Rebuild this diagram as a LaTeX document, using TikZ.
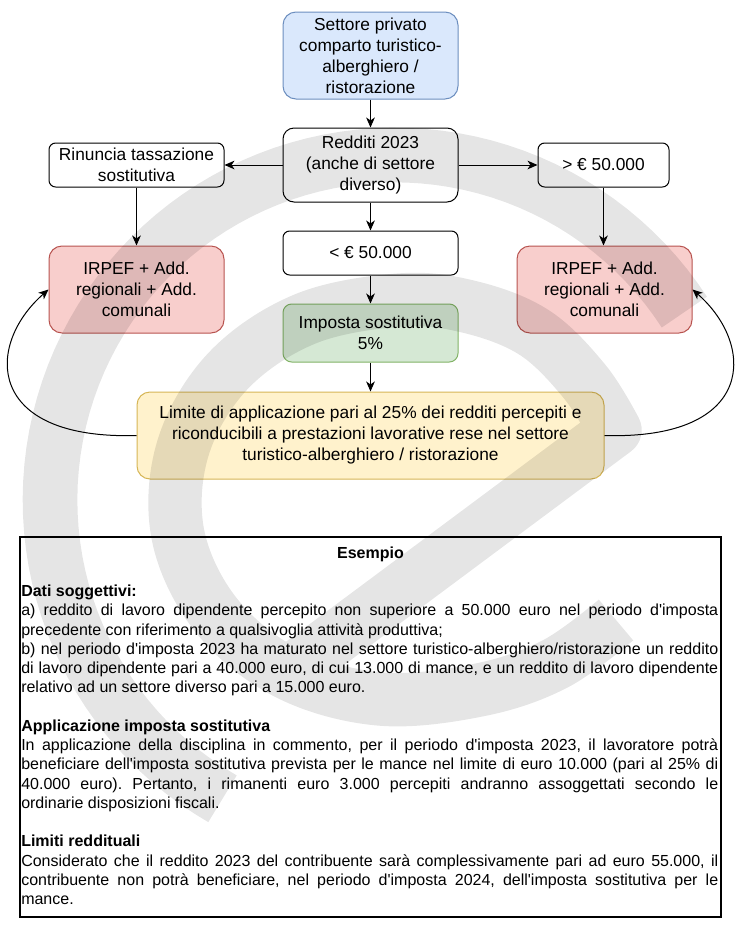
\documentclass[tikz,border=0pt]{standalone}
\usepackage{fontspec}
\setmainfont{Liberation Sans}[Ligatures=TeXOff]
\usetikzlibrary{arrows.meta}
\definecolor{bfill}{HTML}{DAE8FC}\definecolor{bline}{HTML}{6C8EBF}
\definecolor{rfill}{HTML}{F8CECC}\definecolor{rline}{HTML}{B85450}
\definecolor{gfill}{HTML}{D5E8D4}\definecolor{gline}{HTML}{82B366}
\definecolor{yfill}{HTML}{FFF2CC}\definecolor{yline}{HTML}{D6B656}
\newlength{\tw}\setlength{\tw}{522.75pt}
\newcommand{\jline}[1]{\makebox[\tw][s]{#1}}
\frenchspacing
\tikzset{
  fbox/.style={draw=black, fill=white, align=center, inner sep=0pt, line width=0.75pt,
    font=\fontsize{13}{15.75}\selectfont, minimum width=131.25pt},
  bluebox/.style={fbox, fill=bfill, draw=bline},
  redbox/.style={fbox, fill=rfill, draw=rline},
  greenbox/.style={fbox, fill=gfill, draw=gline},
  yellowbox/.style={fbox, fill=yfill, draw=yline},
  tall/.style={minimum height=65.25pt, rounded corners=9.75pt},
  mid/.style={minimum height=55.5pt, rounded corners=8.25pt},
  low/.style={minimum height=33pt, rounded corners=5pt},
  arr/.style={-{Stealth[length=7.5pt,width=6.5pt,inset=2.2pt]}, line width=0.75pt},
  tline/.style={anchor=base west, inner sep=0pt, font=\fontsize{12}{14}\selectfont},
  wm/.style={draw=black, draw opacity=0.1, line cap=butt, line join=round}
}
\begin{document}
\begin{tikzpicture}[x=0.75pt,y=-0.75pt]
\fill[white] (0,0) rectangle (740,929);
\useasboundingbox (0,0) rectangle (740,929);

% flowchart nodes
\node[bluebox, tall] (set) at (370.5,55.5) {Settore privato\\comparto turistico-\\alberghiero /\\ristorazione};
\node[fbox, mid] (red) at (370.5,165) {Redditi 2023\\(anche di settore\\diverso)};
\node[fbox, low] (rin) at (136.5,165) {Rinuncia tassazione\\sostitutiva};
\node[fbox, low, minimum width=98.25pt] (piu) at (603.5,165) {> € 50.000};
\node[fbox, low] (meno) at (370.5,253) {< € 50.000};
\node[redbox, tall] (irl) at (136.5,289.5) {IRPEF + Add.\\regionali + Add.\\comunali};
\node[redbox, tall] (irr) at (604.5,289.5) {IRPEF + Add.\\regionali + Add.\\comunali};
\node[greenbox, minimum height=43.5pt, rounded corners=6.5pt] (imp) at (370.5,333) {Imposta sostitutiva\\5\%};
\node[yellowbox, tall, minimum width=350.25pt] (lim) at (370.5,435.5) {Limite di applicazione pari al 25\% dei redditi percepiti e\\riconducibili a prestazioni lavorative rese nel settore\\turistico-alberghiero / ristorazione};

% connectors
\draw[arr] (set.south) -- (red.north);
\draw[arr] (red.west) -- (rin.east);
\draw[arr] (red.east) -- (piu.west);
\draw[arr] (red.south) -- (meno.north);
\draw[arr] (meno.south) -- (imp.north);
\draw[arr] (imp.south) -- (lim.north);
\draw[arr] (rin.south) -- (irl.north);
\draw[arr] (piu.south) -- (piu.south |- irr.north);
\draw[arr] (lim.west) .. controls (-15,440) and (-15,345) .. (irl.west);
\draw[arr] (lim.east) .. controls (756,440) and (756,345) .. (irr.east);

% example box
\node[draw=black, line width=1.1pt, minimum width=525.75pt, minimum height=285pt, inner sep=0pt] (esbox) at (370.5,727) {};
\node[anchor=base, inner sep=0pt, font=\fontsize{12}{14}\selectfont\bfseries] (t1) at (370.5,558) {Esempio};
\node[tline] (t3) at (21,596.5) {\bfseries Dati soggettivi:};
\node[tline] (t4) at (21,615.75) {\jline{a) reddito di lavoro dipendente percepito non superiore a 50.000 euro nel periodo d'imposta}};
\node[tline] (t5) at (21,635) {precedente con riferimento a qualsivoglia attività produttiva;};
\node[tline] (t6) at (21,654.25) {\jline{b) nel periodo d'imposta 2023 ha maturato nel settore turistico-alberghiero/ristorazione un reddito}};
\node[tline] (t7) at (21,673.5) {\jline{di lavoro dipendente pari a 40.000 euro, di cui 13.000 di mance, e un reddito di lavoro dipendente}};
\node[tline] (t8) at (21,692.75) {relativo ad un settore diverso pari a 15.000 euro.};
\node[tline] (t10) at (21,731.25) {\bfseries Applicazione imposta sostitutiva};
\node[tline] (t11) at (21,750.5) {\jline{In applicazione della disciplina in commento, per il periodo d'imposta 2023, il lavoratore potrà}};
\node[tline] (t12) at (21,769.75) {\jline{beneficiare dell'imposta sostitutiva prevista per le mance nel limite di euro 10.000 (pari al 25\% di}};
\node[tline] (t13) at (21,789) {\jline{40.000 euro). Pertanto, i rimanenti euro 3.000 percepiti andranno assoggettati secondo le}};
\node[tline] (t14) at (21,808.25) {ordinarie disposizioni fiscali.};
\node[tline] (t16) at (21,846.75) {\bfseries Limiti reddituali};
\node[tline] (t17) at (21,866) {\jline{Considerato che il reddito 2023 del contribuente sarà complessivamente pari ad euro 55.000, il}};
\node[tline] (t18) at (21,885.25) {\jline{contribuente non potrà beneficiare, nel periodo d'imposta 2024, dell'imposta sostitutiva per le}};
\node[tline] (t19) at (21,904.5) {mance.};

% watermark
\draw[wm, line width=41pt] plot[domain=33:240, samples=80, variable=\t] ({395+345*cos(\t)}, {500-345*sin(\t)});
\draw[wm, line width=40pt] (290,672) -- plot[smooth, tension=0.6] coordinates {(615,430) (585,382) (535,333) (470,307) (400,300) (305,319) (228,371) (183,448) (178,535) (216,615) (287,673) (380,699) (479,690) (555,664) (616,620)};
\end{tikzpicture}
\end{document}
